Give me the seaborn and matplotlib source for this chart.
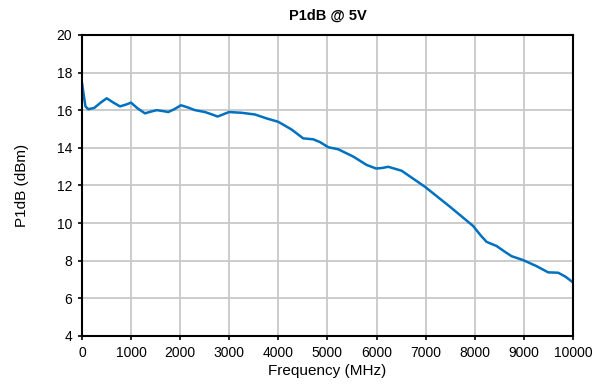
import numpy as np
import pandas as pd
import matplotlib
matplotlib.use('Agg')
import matplotlib.pyplot as plt
import seaborn as sns

freq_mhz = [0, 30, 70, 128, 250, 380, 503, 640, 774, 900, 998, 1130, 1283, 1400, 1521,
            1650, 1758, 1880, 2016, 2150, 2301, 2505, 2640, 2763, 2880, 2994, 3252,
            3523, 3761, 3999, 4270, 4507, 4711, 4850, 5017, 5221, 5527, 5798, 5988,
            6100, 6239, 6511, 6986, 7495, 7970, 8120, 8242, 8446, 8600, 8751, 8988,
            9260, 9497, 9701, 9850, 10000]
p1db_dbm = [17.45, 16.9, 16.2, 16.05, 16.12, 16.4, 16.63, 16.4, 16.2, 16.3, 16.4, 16.1,
            15.83, 15.92, 16.0, 15.95, 15.9, 16.05, 16.26, 16.15, 16.0, 15.9, 15.78,
            15.66, 15.78, 15.9, 15.86, 15.77, 15.56, 15.38, 14.97, 14.5, 14.45, 14.3,
            14.03, 13.92, 13.53, 13.09, 12.9, 12.92, 12.99, 12.78, 11.93, 10.87, 9.84,
            9.35, 9.0, 8.78, 8.5, 8.24, 8.03, 7.71, 7.38, 7.36, 7.15, 6.85]

df = pd.DataFrame({'Frequency (MHz)': freq_mhz, 'P1dB (dBm)': p1db_dbm})

sns.set_theme(style='white')
plt.rcParams['font.family'] = ['Liberation Sans', 'DejaVu Sans']
plt.rcParams['text.color'] = 'black'
plt.rcParams['axes.labelcolor'] = 'black'

fig = plt.figure(figsize=(6.03, 3.92), dpi=100)
ax = fig.add_axes([0.136, 0.143, 0.814, 0.768])
sns.lineplot(data=df, x='Frequency (MHz)', y='P1dB (dBm)', ax=ax,
             color='#0070C0', linewidth=1.8)

ax.set_xlim(0, 10000)
ax.set_ylim(4, 20)
ax.set_xticks(np.arange(0, 10001, 1000))
ax.set_yticks(np.arange(4, 21, 2))
ax.grid(True, color='#C8C8C8', linewidth=1.3)
ax.set_axisbelow(True)
for s in ax.spines.values():
    s.set_color('black')
    s.set_linewidth(1.5)
ax.tick_params(axis='both', labelsize=10, colors='black', length=3, width=1.2,
               direction='out', bottom=True, left=True, pad=4)
ax.set_xlabel('Frequency (MHz)', fontsize=11, labelpad=3)
ax.set_ylabel('P1dB (dBm)', fontsize=11, labelpad=20)
ax.set_title('P1dB @ 5V', fontsize=10.5, fontweight='bold', pad=11, color='black')

fig.savefig('out.png', dpi=100)
